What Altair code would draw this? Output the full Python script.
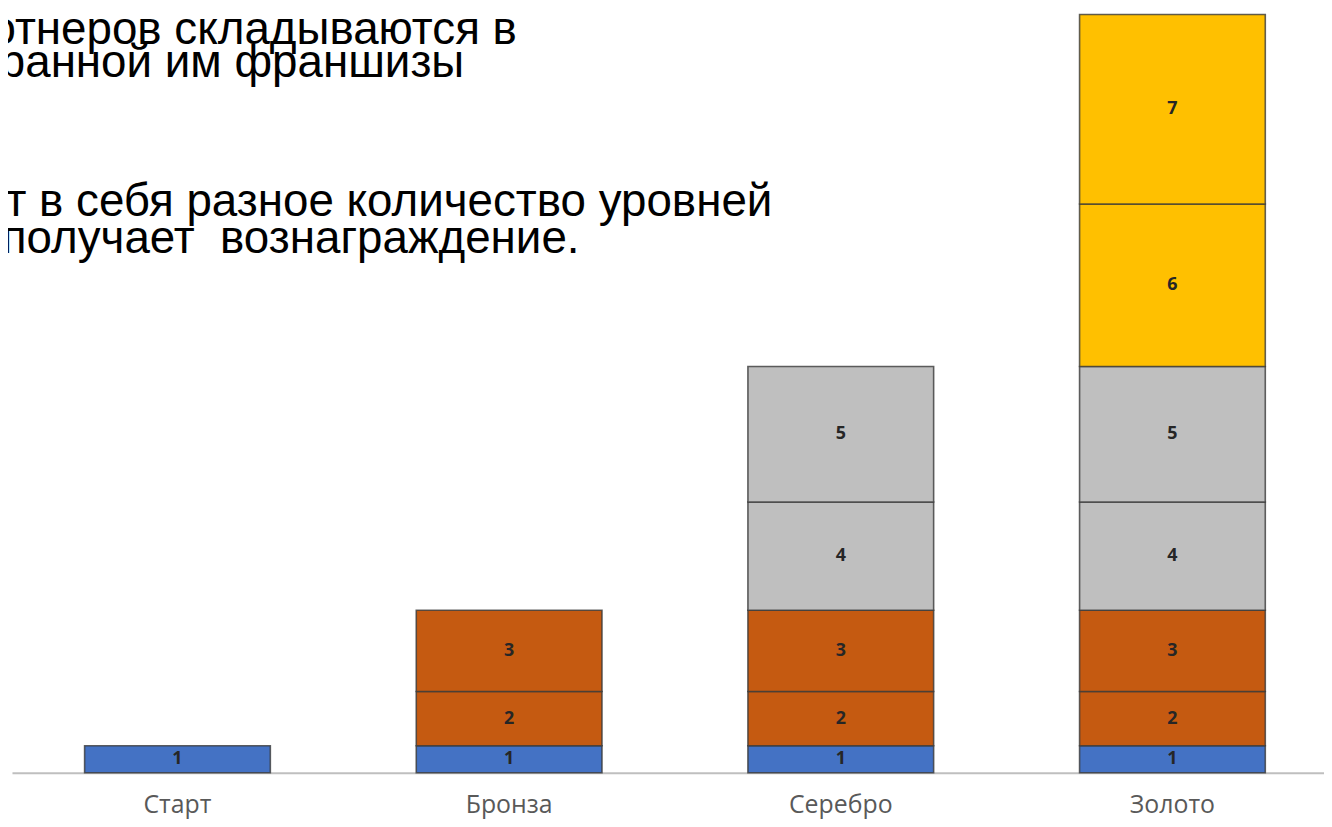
import altair as alt
import pandas as pd

# ---- data ----
categories = ["Старт", "Бронза", "Серебро", "Золото"]
levels_per_category = [1, 3, 5, 7]
levels = [1, 2, 3, 4, 5, 6, 7]
level_heights = [1, 2, 3, 4, 5, 6, 7]
level_colors = ["#4472C4", "#C55A11", "#C55A11", "#BFBFBF", "#BFBFBF", "#FFC000", "#FFC000"]
note_lines = [
    "отнеров складываются в",
    "ранной им франшизы",
    "т в себя разное количество уровней",
    "получает\u00a0 вознаграждение.",
]

rows = []
for cat, n in zip(categories, levels_per_category):
    for lvl in levels[:n]:
        rows.append({"cat": cat, "level": lvl, "value": level_heights[lvl - 1]})
df = pd.DataFrame(rows)

base = alt.Chart(df).transform_stack(
    stack="value",
    as_=["y0", "y1"],
    groupby=["cat"],
    sort=[alt.SortField("level", order="ascending")],
).transform_calculate(mid="(datum.y0 + datum.y1) / 2")

xscale = alt.Scale(paddingInner=0.44, paddingOuter=0.198, align=0.553)
yscale = alt.Scale(domain=[0, 28], nice=False, zero=True)

xenc = alt.X(
    "cat:N",
    sort=categories,
    scale=xscale,
    axis=alt.Axis(
        title=None,
        labelAngle=0,
        ticks=False,
        domain=True,
        domainColor="#BFBFBF",
        domainWidth=2,
        labelColor="#595959",
        labelFont="Open Sans",
        labelFontSize=25,
        labelPadding=20,
        grid=False,
    ),
)

bars = base.mark_bar(stroke="#3a3a3a", strokeWidth=1.6, strokeOpacity=0.8).encode(
    x=xenc,
    y=alt.Y("y0:Q", scale=yscale, axis=None),
    y2="y1:Q",
    color=alt.Color("level:O", scale=alt.Scale(domain=levels, range=level_colors), legend=None),
)

labels = base.mark_text(
    font="Open Sans", fontSize=18, fontWeight="bold", color="#262626", baseline="middle"
).encode(
    x=alt.X("cat:N", sort=categories),
    y=alt.Y("mid:Q", scale=yscale),
    text="level:Q",
)

note_pos = [(508, 30), (455, 63), (765, 203), (571, 240)]
notes = []
for line, (xe, yb) in zip(note_lines, note_pos):
    notes.append(
        alt.Chart(pd.DataFrame({"t": [line]}))
        .mark_text(align="right", baseline="alphabetic", font="Liberation Sans", fontSize=46, color="#000000")
        .encode(text="t:N", x=alt.value(xe), y=alt.value(yb))
    )

chart = (
    alt.layer(bars, labels, *notes)
    .properties(
        width=1320,
        height=763,
        autosize=alt.AutoSizeParams(type="none"),
        padding={"left": 4, "top": 4, "right": 0, "bottom": 45},
    )
    .configure_view(stroke=None)
)

chart.save("out.html", embed_options={"renderer": "svg", "actions": False})
